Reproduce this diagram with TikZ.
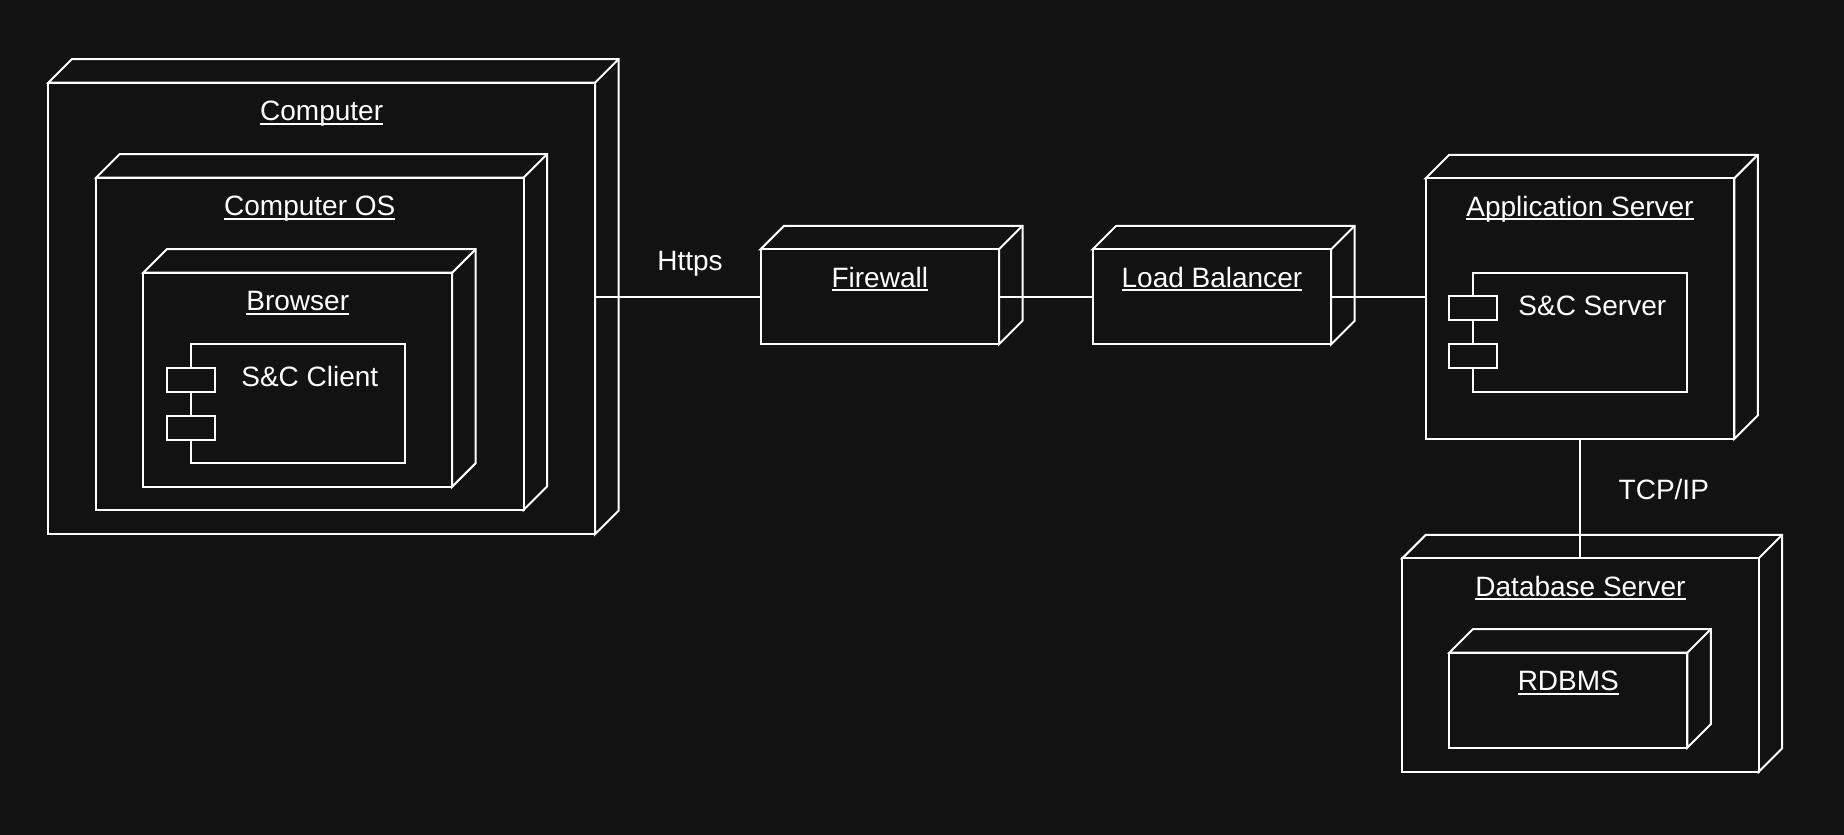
\documentclass[tikz,border=0pt]{standalone}
\usepackage{fontspec}
\setmainfont{Liberation Sans}
\usetikzlibrary{fit}
\definecolor{bgc}{HTML}{121212}
\tikzset{
  frame/.style={draw=white, line width=2pt, fill=bgc, line join=miter},
  front/.style={frame, rectangle, inner sep=0pt, outer sep=0pt},
  port/.style={frame, rectangle, inner sep=0pt, outer sep=0pt, minimum width=48.3pt, minimum height=24pt},
  lbl/.style={text=white, inner sep=0pt, outer sep=0pt, anchor=base, font=\fontsize{28}{34}\selectfont},
  uline/.style={draw=white, line width=1.8pt},
  wire/.style={draw=white, line width=2pt},
}
\newcommand\dd{23.5}
\newcommand\deployNode[5]{%
  \filldraw[frame] (#2,#3) -- ++(\dd,-\dd) -- (#4+\dd,#3-\dd) -- (#4+\dd,#5-\dd) -- (#4,#5) -- (#4,#3) -- cycle;
  \draw[frame, fill=none] (#4,#3) -- ++(\dd,-\dd);
  \node[front, fit={(#2,#3) (#4,#5)}] (#1) {};
}
\newcommand\compBox[5]{%
  \node[front, fit={(#2,#3) (#4,#5)}] (#1) {};
  \node[port] (#1-p1) at (#2,#3+35.7) {};
  \node[port] (#1-p2) at (#2,#3+83.5) {};
}
\newcommand\uLabel[3]{%
  \node[lbl] (#1) at (#2) {#3};
  \draw[uline] ([yshift=-3pt]#1.base west) -- ([yshift=-3pt]#1.base east);
}
\begin{document}
\begin{tikzpicture}[x=1pt,y=-1pt]
\fill[bgc] (0,0) rectangle (1844,835);
\useasboundingbox (0,0) rectangle (1844,835);

% left stack
\deployNode{computer}{48.3}{82.7}{595}{534.3}
\uLabel{computer-l}{321.65,120.7}{Computer}
\deployNode{compos}{96}{177.7}{523.5}{510}
\uLabel{compos-l}{309.75,215.7}{Computer OS}
\deployNode{browser}{143.3}{272.7}{452.2}{486.7}
\uLabel{browser-l}{297.75,310.7}{Browser}
\compBox{client}{190.7}{344}{405}{462.7}
\node[lbl] (client-l) at (309.85,386.7) {S\&C Client};

% middle
\deployNode{firewall}{760.6}{249.3}{999}{344.3}
\uLabel{firewall-l}{879.8,287.3}{Firewall}
\deployNode{lb}{1092.7}{249.3}{1331.1}{344.3}
\uLabel{lb-l}{1211.9,287.3}{Load Balancer}

% right
\deployNode{app}{1425.7}{178.3}{1734.3}{439}
\uLabel{app-l}{1580,216.3}{Application Server}
\compBox{server}{1473.3}{272.7}{1687.3}{391.7}
\node[lbl] (server-l) at (1592.3,315.7) {S\&C Server};

\deployNode{db}{1402.3}{558.3}{1758.7}{771.7}
\uLabel{db-l}{1580.5,596.3}{Database Server}
\deployNode{rdbms}{1449.3}{652.7}{1687.3}{747.7}
\uLabel{rdbms-l}{1568.3,690.7}{RDBMS}

% connectors
\draw[wire] (firewall.west -| computer.east) -- (firewall.west);
\draw[wire] (firewall.east) -- (lb.west);
\draw[wire] (lb.east) -- (lb.east -| app.west);
\draw[wire] (app.south) -- (app.south |- db.north);
\node[lbl] (https) at (690,270.7) {Https};
\node[lbl] (tcpip) at (1663.8,499.3) {TCP/IP};
\end{tikzpicture}
\end{document}
